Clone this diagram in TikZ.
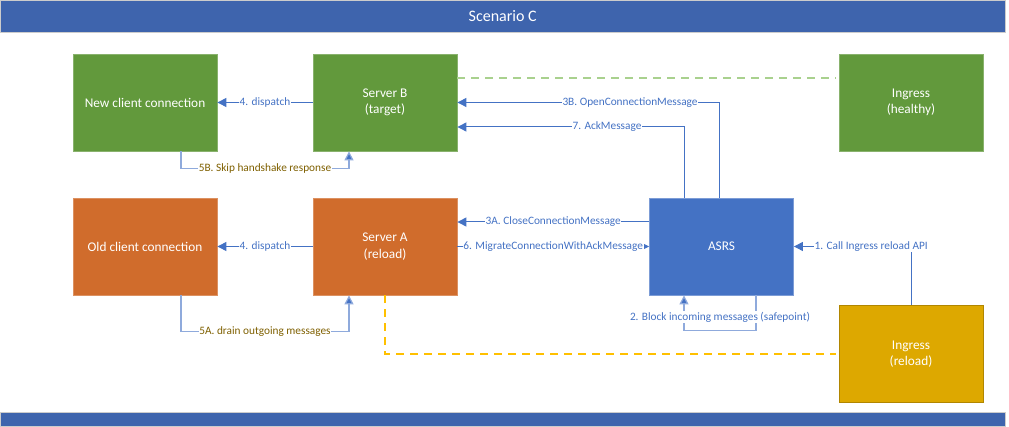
\documentclass[tikz,border=0pt]{standalone}
\usepackage{fontspec}
\setmainfont{Carlito}
\usetikzlibrary{arrows.meta, positioning}
\definecolor{barblue}{HTML}{3E64AD}
\definecolor{leafgreen}{HTML}{62993C}
\definecolor{rustorange}{HTML}{D06C2C}
\definecolor{asrsblue}{HTML}{4472C4}
\definecolor{ingold}{HTML}{DDA800}
\definecolor{linkblue}{HTML}{4472C4}
\definecolor{paleblue}{HTML}{8FAADC}
\definecolor{labelbrown}{HTML}{7F6000}
\definecolor{dashgreen}{HTML}{A9D18E}
\definecolor{dashgold}{HTML}{FFC000}

\tikzset{
  box/.style={rectangle, minimum width=144pt, minimum height=97pt, text=white,
    align=center, font=\fontsize{13.3}{16.5}\selectfont, line width=0.8pt},
  greenbox/.style={box, fill=leafgreen, draw=leafgreen!75!white},
  orangebox/.style={box, fill=rustorange, draw=rustorange!75!white},
  bluebox/.style={box, fill=asrsblue, draw=asrsblue!70!white},
  goldbox/.style={box, fill=ingold, draw=ingold!80!black},
  conn/.style={draw=linkblue, line width=1pt, -{Triangle[length=9pt,width=9pt]}},
  lite/.style={draw=paleblue, line width=1.2pt, -{Triangle[length=9pt,width=9pt,fill=linkblue]}},
  lbl/.style={fill=white, inner sep=0.5pt, text=linkblue, font=\fontsize{11.3}{13}\selectfont},
  brownlbl/.style={lbl, text=labelbrown},
  hold/.style={line width=1.5pt, dash pattern=on 8pt off 6pt}
}

\begin{document}
\begin{tikzpicture}[x=1pt, y=-1pt]
\useasboundingbox (0,0) rectangle (1009,427);

% Title and footer bars
\node[rectangle, fill=barblue, draw=gray!40, minimum width=1005pt, minimum height=32pt,
  text=white, font=\fontsize{16}{18}\selectfont, anchor=north west] (title) at (0,0) {Scenario C};
\node[rectangle, fill=barblue, draw=gray!40, minimum width=1005pt, minimum height=14pt,
  anchor=north west] (footer) at (0,412) {};

% Top row
\node[greenbox] (newc) at (145,102.5) {New client connection};
\node[greenbox] (srvb) at (385,102.5) {Server B\\(target)};
\node[greenbox] (ingh) at (911,102.5) {Ingress\\(healthy)};

% Bottom row
\node[orangebox] (oldc) at (145,246.5) {Old client connection};
\node[orangebox] (srva) at (385,246.5) {Server A\\(reload)};
\node[bluebox] (asrs) at (721.5,246.5) {ASRS};
\node[goldbox] (ingr) at (911,354) {Ingress\\(reload)};

% Ingress bindings
\draw[dashgreen, hold] ([yshift=24.5pt]srvb.east) -- ([yshift=24.5pt,xshift=-3pt]ingh.west);
\draw[dashgold, hold] (srva.south) |- ([xshift=-3pt]ingr.west);

% Steps
\draw[conn] (ingr.north) |- node[lbl, pos=0.67] {1. Call Ingress reload API} (asrs.east);
\draw[lite] ([xshift=34.5pt]asrs.south) -- ++(0,35) -| ([xshift=-37.5pt]asrs.south);
\node[lbl] (blk) at (720,317) {2. Block incoming messages (safepoint)};
\draw[conn] ([yshift=24.5pt]asrs.west) -- node[lbl] {3A. CloseConnectionMessage} ([yshift=24.5pt]srva.east);
\draw[conn] ([xshift=-2.5pt]asrs.north) |- node[lbl, pos=0.67] {3B. OpenConnectionMessage} (srvb.east);
\draw[conn] (srvb.west) -- node[lbl] {4. dispatch} (newc.east);
\draw[conn] (srva.west) -- node[lbl] {4. dispatch} (oldc.east);
\draw[lite] ([xshift=36pt]oldc.south) -- ++(0,36) -| node[brownlbl, pos=0.25] {5A. drain outgoing messages} ([xshift=-36pt]srva.south);
\draw[lite] ([xshift=36pt]newc.south) -- ++(0,17) -| node[brownlbl, pos=0.25] {5B. Skip handshake response} ([xshift=-36pt]srvb.south);
\draw[conn] (srva.east) -- node[lbl] {6. MigrateConnectionWithAckMessage} (asrs.west);
\draw[conn] ([xshift=-37.5pt]asrs.north) |- node[lbl, pos=0.67] {7. AckMessage} ([yshift=-24.5pt]srvb.east);
\end{tikzpicture}
\end{document}
